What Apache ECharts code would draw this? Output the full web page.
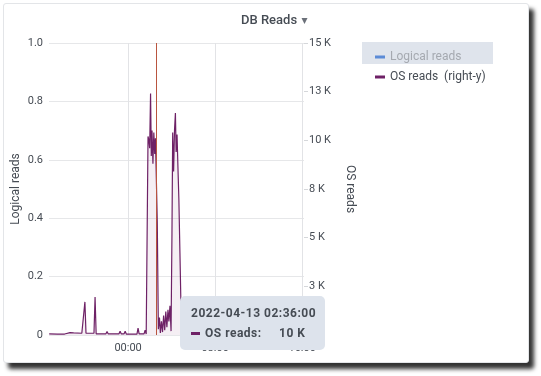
<!DOCTYPE html>
<html>
<head>
<meta charset="utf-8">
<script src="https://cdn.jsdelivr.net/npm/echarts@6/dist/echarts.min.js"></script>
<style>
  body { margin: 0; background: #fff; }
  #panel { position: absolute; left: 3px; top: 3px; width: 524px; height: 358px; background: #fff;
           border: 1px solid #e3e5e8; border-radius: 3px; box-shadow: 5px 6px 4px rgba(0,0,0,0.8); }
  #chart { position: absolute; left: 0; top: 0; width: 541px; height: 376px; }
</style>
</head>
<body>
<div id="panel"></div>
<div id="chart"></div>
<script>
  // OS reads samples (vertices of the trace)
  var times = [
    '2022-04-12 16:45', '2022-04-12 17:30', '2022-04-12 18:10', '2022-04-12 18:40', '2022-04-12 19:00',
    '2022-04-12 19:45', '2022-04-12 19:56', '2022-04-12 20:02', '2022-04-12 20:08', '2022-04-12 20:52',
    '2022-04-12 20:58', '2022-04-12 21:04', '2022-04-12 21:58', '2022-04-12 22:04', '2022-04-12 22:10',
    '2022-04-12 23:10', '2022-04-12 23:16', '2022-04-12 23:22', '2022-04-12 23:38', '2022-04-12 23:44',
    '2022-04-12 23:50', '2022-04-13 00:49', '2022-04-13 00:55', '2022-04-13 01:01', '2022-04-13 01:28',
    '2022-04-13 01:34', '2022-04-13 01:40', '2022-04-13 01:47', '2022-04-13 01:50', '2022-04-13 01:55',
    '2022-04-13 01:59', '2022-04-13 02:04', '2022-04-13 02:08', '2022-04-13 02:12', '2022-04-13 02:17',
    '2022-04-13 02:22', '2022-04-13 02:27', '2022-04-13 02:31', '2022-04-13 02:36', '2022-04-13 02:41',
    '2022-04-13 02:47', '2022-04-13 02:53', '2022-04-13 02:58', '2022-04-13 03:04', '2022-04-13 03:10',
    '2022-04-13 03:16', '2022-04-13 03:22', '2022-04-13 03:28', '2022-04-13 03:34', '2022-04-13 03:40',
    '2022-04-13 03:45', '2022-04-13 03:51', '2022-04-13 03:57', '2022-04-13 04:02', '2022-04-13 04:06',
    '2022-04-13 04:11', '2022-04-13 04:16', '2022-04-13 04:21', '2022-04-13 04:25', '2022-04-13 04:30',
    '2022-04-13 04:35', '2022-04-13 04:40', '2022-04-13 04:46', '2022-04-13 04:53', '2022-04-13 04:59',
    '2022-04-13 05:30', '2022-04-13 16:10'
  ];
  var osReads = [
    60, 40, 50, 120, 110,
    90, 80, 1700, 90, 90,
    1950, 60, 60, 180, 60,
    60, 200, 60, 60, 200,
    50, 50, 350, 60, 60,
    250, 50, 100, 10200, 10000,
    9600, 12400, 9200, 10500, 8800,
    10400, 9300, 10100, 10000, 5800,
    300, 900, 100, 700, 150,
    1000, 250, 1200, 400, 1300,
    700, 1500, 200, 5200, 10400,
    8400, 10500, 11400, 9400, 10300,
    8600, 7000, 4200, 800, 100,
    50, 40
  ];
  var logicalReads = [];   // hidden series, no visible trace
  var gridTimes = ['2022-04-13 00:00', '2022-04-13 08:00', '2022-04-13 16:00'];

  var xMin = '2022-04-12 16:44';
  var xMax = '2022-04-13 16:10';
  var tipTime = '2022-04-13 02:36';

  var textColor = '#464c54';
  var purple = '#6e2166';
  var blue = '#5b8bd6';

  var osData = times.map(function (t, i) { return [t, osReads[i]]; });

  var chart = echarts.init(document.getElementById('chart'), null, { renderer: 'canvas' });

  var option = {
    backgroundColor: 'transparent',
    animation: false,
    textStyle: { fontFamily: 'Roboto, sans-serif' },
    title: {
      text: '{t|DB Reads} {c|▾}',
      left: 236,
      top: 7,
      textStyle: {
        rich: {
          t: { fontSize: 13, fontWeight: 500, color: textColor, fontFamily: 'Roboto' },
          c: { fontSize: 12, color: '#6b7079', fontFamily: 'DejaVu Sans' }
        }
      }
    },
    graphic: [{
      type: 'rect', z: -1,
      shape: { x: 362, y: 42, width: 131, height: 22 },
      style: { fill: '#dfe4ec' }
    }],
    legend: {
      orient: 'vertical',
      left: 370,
      top: 46,
      icon: 'rect',
      itemWidth: 10,
      itemHeight: 3,
      itemGap: 8,
      data: [
        { name: 'Logical reads', textStyle: { color: '#a5a9b0' } },
        { name: 'OS reads', textStyle: { color: textColor } }
      ],
      formatter: function (name) { return name === 'OS reads' ? 'OS reads  (right-y)' : name; },
      textStyle: { fontSize: 12, fontFamily: 'Roboto' },
      selectedMode: false
    },
    grid: { left: 49, right: 237, top: 43, bottom: 41, containLabel: false },
    tooltip: {
      trigger: 'axis',
      alwaysShowContent: true,
      position: [180, 296],
      backgroundColor: '#dde3ec',
      borderWidth: 0,
      padding: [7, 9, 7, 11],
      extraCssText: 'box-shadow:none;border-radius:5px;',
      axisPointer: { type: 'line', lineStyle: { color: '#b9553f', width: 1, type: 'solid' }, label: { show: false } },
      formatter: function (params) {
        var p = params.filter(function (q) { return q.seriesName === 'OS reads'; })[0];
        if (!p) return '';
        var v = Math.round(p.value[1] / 1000) + ' K';
        return '<div style="font:bold 12px Roboto;letter-spacing:0.5px;color:' + textColor + ';line-height:20px">' +
          '2022-04-13 02:36:00<br>' +
          '<span style="display:inline-block;width:9px;height:3px;background:' + purple + ';vertical-align:middle;margin-right:5px"></span>' +
          'OS reads:&nbsp;&nbsp;&nbsp;&nbsp;&nbsp;' + v + '</div>';
      }
    },
    xAxis: {
      type: 'time',
      min: xMin,
      max: xMax,
      minInterval: 4 * 3600 * 1000,
      maxInterval: 4 * 3600 * 1000,
      axisLine: { show: false },
      axisTick: { show: false },
      splitLine: { show: false },
      axisLabel: {
        color: textColor, fontSize: 11, margin: 8, hideOverlap: false,
        formatter: function (v) {
          var d = new Date(v);
          if (d.getHours() % 8 !== 0 || d.getMinutes() !== 0) return '';
          return echarts.time.format(v, '{HH}:{mm}', false);
        }
      }
    },
    yAxis: [{
      type: 'value',
      min: 0, max: 1, interval: 0.2,
      position: 'left',
      name: 'Logical reads',
      nameLocation: 'middle',
      nameRotate: 90,
      nameGap: 27,
      nameTextStyle: { color: textColor, fontSize: 12 },
      axisLine: { show: false },
      axisTick: { show: false },
      splitLine: { lineStyle: { color: '#e6e7e9' } },
      axisLabel: {
        color: textColor, fontSize: 11, margin: 6,
        formatter: function (v) { return v === 0 ? '0' : v.toFixed(1); }
      }
    }, {
      type: 'value',
      min: 0, max: 15000, interval: 2500,
      position: 'right',
      name: 'OS reads',
      nameLocation: 'middle',
      nameRotate: -90,
      nameGap: 40,
      nameTextStyle: { color: textColor, fontSize: 12 },
      axisLine: { show: false },
      axisTick: { show: true, length: 4, lineStyle: { color: '#d5d7da' } },
      splitLine: { show: false },
      axisLabel: {
        color: textColor, fontSize: 11, margin: 5,
        formatter: function (v) { return v === 0 ? '0' : Math.round(v / 1000) + ' K'; }
      }
    }],
    series: [{
      name: 'Logical reads',
      type: 'line',
      yAxisIndex: 0,
      color: blue,
      showSymbol: false,
      data: logicalReads
    }, {
      name: 'OS reads',
      type: 'line',
      yAxisIndex: 1,
      z: 3,
      color: purple,
      symbol: 'none',
      lineStyle: { width: 1.2, color: purple },
      areaStyle: { color: 'rgba(110,33,102,0.1)' },
      emphasis: { disabled: true },
      data: osData
    }, {
      // vertical grid lines every 8 hours
      name: 'grid',
      type: 'custom',
      yAxisIndex: 1,
      z: 1,
      silent: true,
      tooltip: { show: false },
      data: gridTimes.map(function (t) { return [t]; }),
      renderItem: function (params, api) {
        var top = api.coord([api.value(0), 15000]);
        var bottom = api.coord([api.value(0), 0]);
        var x = Math.round(top[0]) + 0.5;
        return {
          type: 'line',
          shape: { x1: x, y1: top[1], x2: x, y2: bottom[1] },
          style: { stroke: '#e2e3e6', lineWidth: 1 }
        };
      }
    }]
  };

  chart.setOption(option);
  chart.dispatchAction({ type: 'showTip', seriesIndex: 1, dataIndex: times.indexOf(tipTime) });
</script>
</body>
</html>
